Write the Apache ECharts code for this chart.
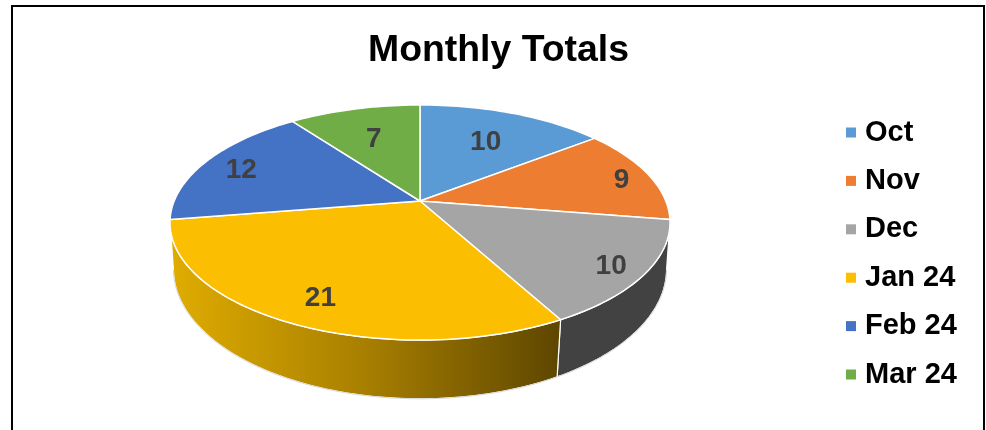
<!DOCTYPE html>
<html>
<head>
<meta charset="utf-8">
<style>html,body{margin:0;padding:0;background:#fff}#c{width:986px;height:430px}</style>
<script src="https://cdn.jsdelivr.net/npm/echarts@6/dist/echarts.min.js"></script>
</head>
<body>
<div id="c"></div>
<script>
var categories = ['Oct', 'Nov', 'Dec', 'Jan 24', 'Feb 24', 'Mar 24'];
var values = [10, 9, 10, 21, 12, 7];
var colors = ['#5B9BD5', '#ED7D31', '#A5A5A5', '#FCBE00', '#4472C4', '#70AD47'];
var labelRadius = [0.675, 0.88, 0.865, 0.8, 0.83, 0.67];

// Projection of the pie's top and bottom discs (perspective view)
var CX = 420;
var topDisc = {y0: 201, a: 113.6, b: -0.183, c: 245.8};
var bottomDisc = {y0: 247, a: 126, b: -0.17, c: 243};
var VISIBLE_FROM = 100, VISIBLE_TO = 260;
var LABEL_DY = 3;

var total = values.reduce(function (s, v) { return s + v; }, 0);

function project(d, deg, r) {
  var t = deg * Math.PI / 180;
  var u = Math.sin(t) * r, v = -Math.cos(t) * r;
  var w = 1 + d.b * v;
  return [CX + d.c * u / w, d.y0 + d.a * v / w];
}
function arc(d, a0, a1) {
  var pts = [], n = Math.max(2, Math.ceil(Math.abs(a1 - a0) / 1.5));
  for (var i = 0; i <= n; i++) pts.push(project(d, a0 + (a1 - a0) * i / n, 1));
  return pts;
}
function wallFill(i) {
  if (categories[i] === 'Jan 24') {
    return {type: 'linear', x: 172, y: 0, x2: 557, y2: 0, global: true,
      colorStops: [{offset: 0, color: '#DFAC00'}, {offset: 0.5, color: '#A87F00'}, {offset: 1, color: '#5F4700'}]};
  }
  return '#424242';
}
function renderSlice(params, api) {
  var i = params.seriesIndex, val = api.value(0), before = 0;
  for (var k = 0; k < i; k++) before += values[k];
  var a0 = before / total * 360, a1 = (before + val) / total * 360;
  var children = [];
  var w0 = Math.max(a0, VISIBLE_FROM), w1 = Math.min(a1, VISIBLE_TO);
  if (w1 > w0) {
    var outer = arc(bottomDisc, w0, w1);
    children.push({
      type: 'polygon', z2: 1,
      shape: {points: arc(topDisc, w0, w1).concat(outer.slice().reverse())},
      style: {fill: wallFill(i), stroke: '#fff', lineWidth: 1.2}
    });
    children.push({
      type: 'polyline', z2: 2,
      shape: {points: outer},
      style: {fill: null, stroke: '#D8D8D8', lineWidth: 1}
    });
  }
  children.push({
    type: 'polygon', z2: 3,
    shape: {points: [project(topDisc, 0, 0)].concat(arc(topDisc, a0, a1))},
    style: {fill: colors[i], stroke: '#fff', lineWidth: 1.5, lineJoin: 'round'}
  });
  var lp = project(topDisc, (a0 + a1) / 2, labelRadius[i]);
  children.push({
    type: 'text', z2: 5,
    style: {
      text: String(val), x: lp[0], y: lp[1] + LABEL_DY, align: 'center', verticalAlign: 'middle',
      fill: '#404040', fontSize: 28, fontWeight: 'bold', fontFamily: 'Liberation Sans'
    }
  });
  return {type: 'group', children: children};
}

var chart = echarts.init(document.getElementById('c'), null, {renderer: 'canvas'});
chart.setOption({
  animation: false,
  backgroundColor: '#fff',
  color: colors,
  title: {
    text: 'Monthly Totals', left: 498.5, top: 32, textAlign: 'center', padding: 0,
    textStyle: {fontFamily: 'Liberation Sans', fontWeight: 'bold', fontSize: 37.4, color: '#000'}
  },
  legend: {
    orient: 'vertical', left: 846, top: 116, padding: 0,
    itemWidth: 10, itemHeight: 10, itemGap: 15.4, icon: 'rect',
    selectedMode: false,
    data: categories,
    textStyle: {fontFamily: 'Liberation Sans', fontWeight: 'bold', fontSize: 29, color: '#000',
      lineHeight: 30, padding: [3, 0, 0, 4]}
  },
  graphic: [{
    type: 'rect', silent: true, z: 100,
    shape: {x: 12, y: 6, width: 972, height: 440},
    style: {fill: null, stroke: '#000', lineWidth: 2}
  }],
  series: categories.map(function (name, i) {
    return {
      type: 'custom', name: name, coordinateSystem: 'none', silent: true,
      itemStyle: {color: colors[i]},
      renderItem: renderSlice, data: [[values[i]]]
    };
  })
});
</script>
</body>
</html>
